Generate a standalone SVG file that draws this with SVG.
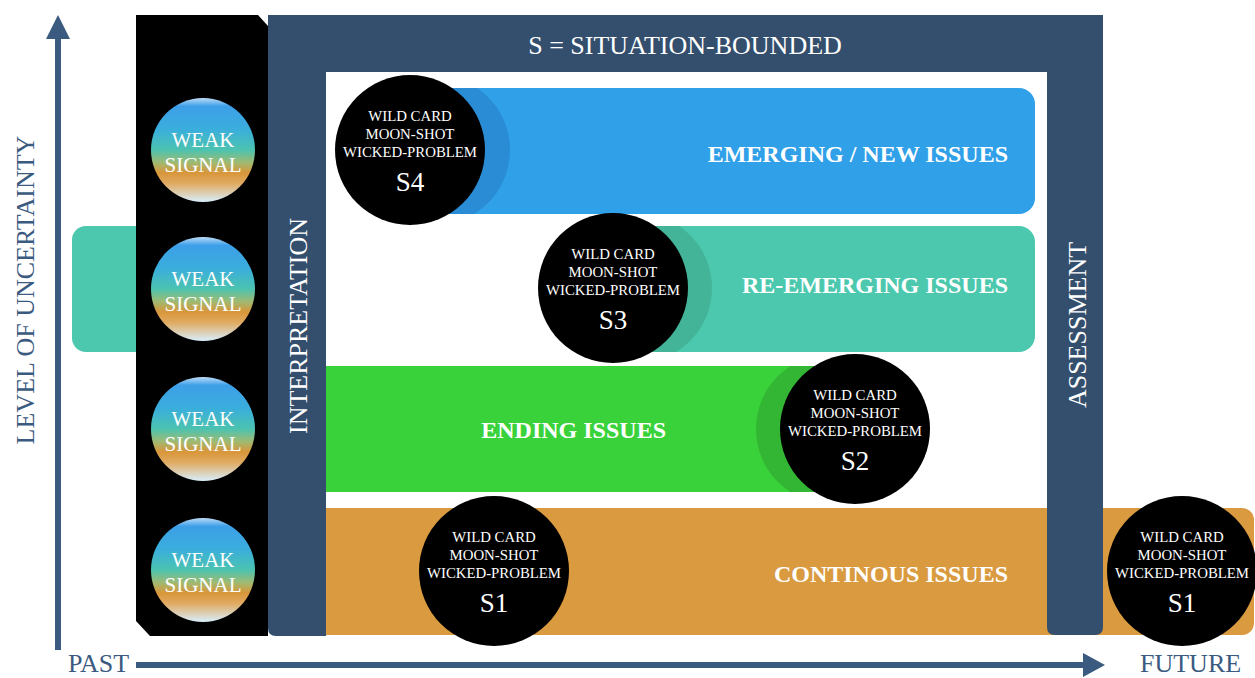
<svg xmlns="http://www.w3.org/2000/svg" width="1255" height="678" viewBox="0 0 1255 678">
<defs>
<linearGradient id="ws" x1="0" y1="0" x2="0" y2="1">
<stop offset="0" stop-color="#bcdcf8"/>
<stop offset="0.08" stop-color="#3d9fe8"/>
<stop offset="0.3" stop-color="#3aaedc"/>
<stop offset="0.5" stop-color="#4cc3b0"/>
<stop offset="0.62" stop-color="#9fba72"/>
<stop offset="0.72" stop-color="#d9963a"/>
<stop offset="0.82" stop-color="#e0aa60"/>
<stop offset="1" stop-color="#d8eefc"/>
</linearGradient>
<clipPath id="cBlue"><rect x="410" y="88" width="625" height="126" rx="16"/></clipPath>
<clipPath id="cTeal"><rect x="613" y="226" width="422" height="126" rx="16"/></clipPath>
<clipPath id="cGreen"><rect x="326" y="366" width="529" height="126"/></clipPath>
</defs>
<style>
text{font-family:"Liberation Serif",serif}
.lbl{fill:#fff;text-anchor:middle}
.big{fill:#fff;font-size:26px}
.issue{fill:#fff;font-weight:bold;font-size:24px;text-anchor:end}
.axis{fill:#3b5a80;font-size:26px}
.card{font-size:14.8px}
.sn{font-size:27px}
.wst{font-size:21px}
.navy{fill:#344f6e}
.circ{fill:#000}
.ax{stroke:#3b5a80;stroke-width:6;fill:none}
</style>
<rect width="1255" height="678" fill="#fff"/>

<g id="teal-left">
<rect x="72" y="226" width="80" height="126" rx="14" fill="#4cc8ae"/>
</g>

<g id="weak-signal-column">
<path d="M136,15 L258,15 L268,26 L268,636 L150,636 L136,621 Z" fill="#000"/>
<g id="ws1"><circle cx="203" cy="150" r="52" fill="url(#ws)"/><text class="lbl wst" x="203" y="147">WEAK</text><text class="lbl wst" x="203" y="172">SIGNAL</text></g>
<g id="ws2"><circle cx="203" cy="289" r="52" fill="url(#ws)"/><text class="lbl wst" x="203" y="286">WEAK</text><text class="lbl wst" x="203" y="311">SIGNAL</text></g>
<g id="ws3"><circle cx="203" cy="429" r="52" fill="url(#ws)"/><text class="lbl wst" x="203" y="426">WEAK</text><text class="lbl wst" x="203" y="451">SIGNAL</text></g>
<g id="ws4"><circle cx="203" cy="570" r="52" fill="url(#ws)"/><text class="lbl wst" x="203" y="567">WEAK</text><text class="lbl wst" x="203" y="592">SIGNAL</text></g>
</g>

<g id="continuous-band">
<rect x="326" y="508" width="928" height="127" rx="12" fill="#d99a40"/>
<rect x="326" y="508" width="30" height="127" fill="#d99a40"/>
<text class="issue" x="1008" y="582">CONTINOUS ISSUES</text>
</g>

<g id="frame">
<path class="navy" d="M268,15 L1103,15 L1103,627 Q1103,635 1095,635 L1055,635 Q1047,635 1047,627 L1047,72 L326,72 L326,636 L276,636 Q268,636 268,628 Z"/>
<text class="big" x="685" y="54" text-anchor="middle">S = SITUATION-BOUNDED</text>
<text class="big" transform="translate(307,326) rotate(-90)" text-anchor="middle">INTERPRETATION</text>
<text class="big" transform="translate(1086,325) rotate(-90)" text-anchor="middle">ASSESSMENT</text>
</g>

<g id="emerging">
<rect x="410" y="88" width="625" height="126" rx="16" fill="#30a0e8"/>
<circle cx="435" cy="150" r="75" fill="#2a8cd4" clip-path="url(#cBlue)"/>
<text class="issue" x="1008" y="162">EMERGING / NEW ISSUES</text>
<g id="s4"><circle class="circ" cx="410" cy="150" r="75"/>
<text class="lbl card" x="410" y="121">WILD CARD</text><text class="lbl card" x="410" y="139">MOON-SHOT</text><text class="lbl card" x="410" y="157">WICKED-PROBLEM</text><text class="lbl sn" x="410" y="191">S4</text></g>
</g>

<g id="re-emerging">
<rect x="613" y="226" width="422" height="126" rx="16" fill="#4cc8ae"/>
<circle cx="637" cy="288" r="75" fill="#43b498" clip-path="url(#cTeal)"/>
<text class="issue" x="1008" y="293">RE-EMERGING ISSUES</text>
<g id="s3"><circle class="circ" cx="613" cy="288" r="75"/>
<text class="lbl card" x="613" y="259">WILD CARD</text><text class="lbl card" x="613" y="277">MOON-SHOT</text><text class="lbl card" x="613" y="295">WICKED-PROBLEM</text><text class="lbl sn" x="613" y="329">S3</text></g>
</g>

<g id="ending">
<rect x="326" y="366" width="529" height="126" fill="#3ad23a"/>
<circle cx="831" cy="429" r="75" fill="#33b633" clip-path="url(#cGreen)"/>
<text class="issue" x="666" y="438">ENDING ISSUES</text>
<g id="s2"><circle class="circ" cx="855" cy="429" r="75"/>
<text class="lbl card" x="855" y="400">WILD CARD</text><text class="lbl card" x="855" y="418">MOON-SHOT</text><text class="lbl card" x="855" y="436">WICKED-PROBLEM</text><text class="lbl sn" x="855" y="470">S2</text></g>
</g>

<g id="s1-left"><circle class="circ" cx="494" cy="571" r="75"/>
<text class="lbl card" x="494" y="542">WILD CARD</text><text class="lbl card" x="494" y="560">MOON-SHOT</text><text class="lbl card" x="494" y="578">WICKED-PROBLEM</text><text class="lbl sn" x="494" y="612">S1</text></g>

<g id="s1-right"><circle class="circ" cx="1182" cy="571" r="75"/>
<text class="lbl card" x="1182" y="542">WILD CARD</text><text class="lbl card" x="1182" y="560">MOON-SHOT</text><text class="lbl card" x="1182" y="578">WICKED-PROBLEM</text><text class="lbl sn" x="1182" y="612">S1</text></g>

<g id="connectors">
<line class="ax" x1="58" y1="650" x2="58" y2="38"/>
<path d="M46,39 L58,15 L70,39 Z" fill="#3b5a80"/>
<line class="ax" x1="136" y1="665" x2="1085" y2="665"/>
<path d="M1083,653 L1105,665 L1083,677 Z" fill="#3b5a80"/>
</g>

<g id="axis-labels">
<text class="axis" x="68" y="672" font-size="25">PAST</text>
<text class="axis" x="1140" y="672">FUTURE</text>
<text class="axis" transform="translate(34,290) rotate(-90)" text-anchor="middle">LEVEL OF UNCERTAINTY</text>
</g>
</svg>
